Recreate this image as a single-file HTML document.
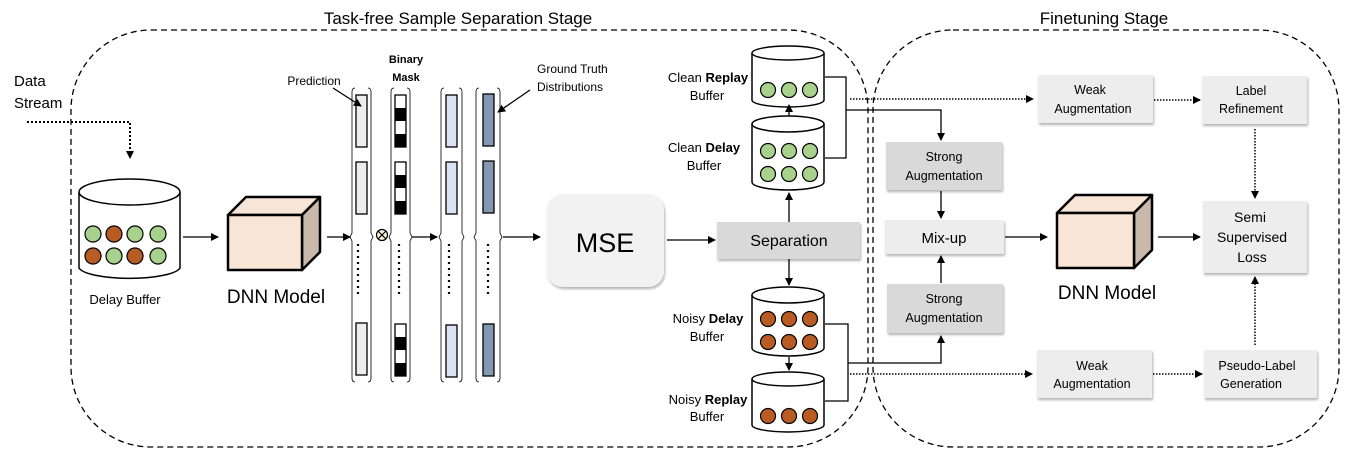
<!DOCTYPE html>
<html><head><meta charset="utf-8"><style>
html,body{margin:0;padding:0;background:#fff;}
svg{display:block;font-family:"Liberation Sans","DejaVu Sans",sans-serif;}
</style></head><body>
<svg width="1348" height="458" viewBox="0 0 1348 458" xmlns="http://www.w3.org/2000/svg">
<defs>
<marker id="a" markerWidth="8" markerHeight="8" refX="7" refY="4" orient="auto" markerUnits="userSpaceOnUse"><path d="M0,0 L8,4 L0,8 z" fill="#000"/></marker>
<filter id="sh" x="-10%" y="-10%" width="130%" height="130%"><feDropShadow dx="1" dy="2" stdDeviation="1.2" flood-color="#000" flood-opacity="0.3"/></filter>
</defs>
<!-- stage regions -->
<rect x="71" y="30" width="797" height="417" rx="80" fill="none" stroke="#000" stroke-width="1.3" stroke-dasharray="6,4"/>
<rect x="873" y="30" width="466" height="417" rx="80" fill="none" stroke="#000" stroke-width="1.3" stroke-dasharray="6,4"/>
<text x="458" y="24" font-size="17" text-anchor="middle">Task-free Sample Separation Stage</text>
<text x="1104" y="24" font-size="17" text-anchor="middle">Finetuning Stage</text>

<!-- data stream -->
<text x="14" y="86" font-size="15">Data</text>
<text x="14" y="108" font-size="15">Stream</text>
<path d="M27,122 H130 V158" fill="none" stroke="#000" stroke-width="2" stroke-dasharray="2,2" marker-end="url(#a)"/>

<!-- delay buffer -->
<path d="M79,192 V268 A51,12 0 0 0 180,268 V192" fill="#fff" stroke="#000" stroke-width="1.5"/>
<ellipse cx="129.5" cy="192" rx="50.5" ry="13" fill="#fff" stroke="#000" stroke-width="1.5"/>
<g stroke="#000" stroke-width="1.2">
<circle cx="93" cy="234" r="8" fill="#a9d18e"/><circle cx="114" cy="234" r="8" fill="#b85c24"/><circle cx="135" cy="234" r="8" fill="#a9d18e"/><circle cx="158" cy="234" r="8" fill="#a9d18e"/>
<circle cx="93" cy="256" r="8" fill="#b85c24"/><circle cx="114" cy="256" r="8" fill="#a9d18e"/><circle cx="135" cy="256" r="8" fill="#b85c24"/><circle cx="158" cy="256" r="8" fill="#a9d18e"/>
</g>
<text x="125" y="304" font-size="13" text-anchor="middle">Delay Buffer</text>
<line x1="183" y1="237" x2="218" y2="237" stroke="#000" stroke-width="1.3" marker-end="url(#a)"/>

<!-- DNN cube 1 -->
<g stroke="#000" stroke-width="2.5" stroke-linejoin="round">
<path d="M228,215 L246,197 L320,197 L302,215 z" fill="#f8e5d6"/>
<path d="M302,215 L320,197 L320,252 L302,270 z" fill="#c9b8ac"/>
<rect x="228" y="215" width="74" height="55" fill="#f8e5d6"/>
</g>
<text x="276" y="303" font-size="19" text-anchor="middle">DNN Model</text>
<line x1="327" y1="237" x2="350" y2="237" stroke="#000" stroke-width="1.3" marker-end="url(#a)"/>

<!-- columns -->
<g fill="none" stroke="#000" stroke-width="0.8">
<path d="M355,88 Q352,88 352,92 V233 L350,237 L352,241 V378 Q352,382 355,382"/>
<path d="M368,88 Q371,88 371,92 V233 L373,237 L371,241 V378 Q371,382 368,382"/>
<path d="M394,88 Q391,88 391,92 V233 L389,237 L391,241 V378 Q391,382 394,382"/>
<path d="M407,88 Q410,88 410,92 V233 L412,237 L410,241 V378 Q410,382 407,382"/>
<path d="M444,88 Q441,88 441,92 V233 L439,237 L441,241 V378 Q441,382 444,382"/>
<path d="M459,88 Q462,88 462,92 V233 L464,237 L462,241 V378 Q462,382 459,382"/>
<path d="M479,88 Q476,88 476,92 V233 L474,237 L476,241 V378 Q476,382 479,382"/>
<path d="M497,88 Q500,88 500,92 V233 L502,237 L500,241 V378 Q500,382 497,382"/>
</g>
<g stroke="#000" stroke-width="1.3">
<rect x="356" y="95" width="11" height="52" fill="#ededed"/>
<rect x="356" y="162" width="11" height="52" fill="#ededed"/>
<rect x="356" y="323" width="11" height="52" fill="#ededed"/>
<rect x="446" y="95" width="11" height="52" fill="#dae3f3"/>
<rect x="446" y="162" width="11" height="52" fill="#dae3f3"/>
<rect x="446" y="325" width="11" height="52" fill="#dae3f3"/>
<rect x="483" y="94" width="11" height="52" fill="#8497b0"/>
<rect x="483" y="161" width="11" height="52" fill="#8497b0"/>
<rect x="483" y="324" width="11" height="52" fill="#8497b0"/>
</g>
<g>
<rect x="395" y="95" width="11" height="52" fill="#fff" stroke="#000" stroke-width="1.3"/>
<rect x="395" y="108" width="11" height="13" fill="#000"/><rect x="395" y="134" width="11" height="13" fill="#000"/>
<rect x="395" y="162" width="11" height="52" fill="#fff" stroke="#000" stroke-width="1.3"/>
<rect x="395" y="175" width="11" height="13" fill="#000"/><rect x="395" y="201" width="11" height="13" fill="#000"/>
<rect x="395" y="324" width="11" height="52" fill="#fff" stroke="#000" stroke-width="1.3"/>
<rect x="395" y="337" width="11" height="13" fill="#000"/><rect x="395" y="363" width="11" height="13" fill="#000"/>
</g>
<g stroke="#000" stroke-width="2.2" stroke-dasharray="2,4">
<line x1="358" y1="244" x2="358" y2="297"/><line x1="399" y1="244" x2="399" y2="297"/>
<line x1="449" y1="244" x2="449" y2="297"/><line x1="488" y1="244" x2="488" y2="297"/>
</g>
<circle cx="382" cy="235" r="5.5" fill="#fff8dc" stroke="#000" stroke-width="1.2"/>
<path d="M378,231 L386,239 M386,231 L378,239" stroke="#000" stroke-width="1.2"/>
<line x1="412" y1="237" x2="437" y2="237" stroke="#000" stroke-width="1.3" marker-end="url(#a)"/>
<line x1="503" y1="237" x2="540" y2="237" stroke="#000" stroke-width="1.3" marker-end="url(#a)"/>

<text x="314" y="85" font-size="12" text-anchor="middle">Prediction</text>
<line x1="333" y1="88" x2="361" y2="106" stroke="#000" stroke-width="1.3" marker-end="url(#a)"/>
<text x="406" y="63" font-size="11" font-weight="bold" text-anchor="middle">Binary</text>
<text x="406" y="81" font-size="11" font-weight="bold" text-anchor="middle">Mask</text>
<text x="537" y="73" font-size="12">Ground Truth</text>
<text x="537" y="91" font-size="12">Distributions</text>
<line x1="530" y1="90" x2="498" y2="112" stroke="#000" stroke-width="1.3" marker-end="url(#a)"/>

<!-- MSE -->
<rect x="547" y="194" width="117" height="93" rx="16" fill="#f2f2f2" filter="url(#sh)"/>
<text x="605" y="252" font-size="27" text-anchor="middle">MSE</text>
<line x1="667" y1="240" x2="715" y2="240" stroke="#000" stroke-width="1.3" marker-end="url(#a)"/>
<rect x="717" y="222" width="143" height="37" fill="#d9d9d9" filter="url(#sh)"/>
<text x="789" y="246" font-size="16" text-anchor="middle">Separation</text>

<!-- buffers -->
<g stroke="#000" stroke-width="1.5">
<path d="M752,53 V100 A36,7 0 0 0 824,100 V53" fill="#fff"/><ellipse cx="788" cy="53" rx="36" ry="7" fill="#fff"/>
<path d="M752,124 V182 A36,8 0 0 0 824,182 V124" fill="#fff"/><ellipse cx="788" cy="124" rx="36" ry="8" fill="#fff"/>
<path d="M752,295 V348 A36,8 0 0 0 824,348 V295" fill="#fff"/><ellipse cx="788" cy="295" rx="36" ry="8" fill="#fff"/>
<path d="M752,379 V425 A36,7 0 0 0 824,425 V379" fill="#fff"/><ellipse cx="788" cy="379" rx="36" ry="7" fill="#fff"/>
</g>
<g stroke="#000" stroke-width="1.2" fill="#a9d18e">
<circle cx="768" cy="90" r="7.5"/><circle cx="789" cy="90" r="7.5"/><circle cx="810" cy="90" r="7.5"/>
<circle cx="768" cy="151" r="7.5"/><circle cx="789" cy="151" r="7.5"/><circle cx="810" cy="151" r="7.5"/>
<circle cx="768" cy="174" r="7.5"/><circle cx="789" cy="174" r="7.5"/><circle cx="810" cy="174" r="7.5"/>
</g>
<g stroke="#000" stroke-width="1.2" fill="#b85c24">
<circle cx="768" cy="319" r="7.5"/><circle cx="789" cy="319" r="7.5"/><circle cx="810" cy="319" r="7.5"/>
<circle cx="768" cy="342" r="7.5"/><circle cx="789" cy="342" r="7.5"/><circle cx="810" cy="342" r="7.5"/>
<circle cx="768" cy="416" r="7.5"/><circle cx="789" cy="416" r="7.5"/><circle cx="810" cy="416" r="7.5"/>
</g>
<g font-size="13" text-anchor="middle">
<text x="708" y="82">Clean <tspan font-weight="bold">Replay</tspan></text><text x="707" y="100">Buffer</text>
<text x="704" y="152">Clean <tspan font-weight="bold">Delay</tspan></text><text x="704" y="170">Buffer</text>
<text x="708" y="323">Noisy <tspan font-weight="bold">Delay</tspan></text><text x="707" y="341">Buffer</text>
<text x="708" y="404">Noisy <tspan font-weight="bold">Replay</tspan></text><text x="707" y="421">Buffer</text>
</g>
<g stroke="#000" stroke-width="1.3" fill="none">
<line x1="789" y1="116" x2="789" y2="105" marker-end="url(#a)"/>
<line x1="789" y1="222" x2="789" y2="193" marker-end="url(#a)"/>
<line x1="789" y1="259" x2="789" y2="285" marker-end="url(#a)"/>
<line x1="789" y1="357" x2="789" y2="370" marker-end="url(#a)"/>
<path d="M825,77 H846 V158 H825"/>
<path d="M825,324 H848 V401 H825"/>
<path d="M846,110 H941 V140" marker-end="url(#a)"/>
<path d="M848,363 H941 V336" marker-end="url(#a)"/>
</g>
<g stroke="#000" stroke-width="1.5" stroke-dasharray="1.5,1.5" fill="none">
<line x1="850" y1="99" x2="1033" y2="99" marker-end="url(#a)"/>
<line x1="850" y1="374" x2="1032" y2="374" marker-end="url(#a)"/>
<line x1="1154" y1="100" x2="1200" y2="100" marker-end="url(#a)"/>
<line x1="1153" y1="374" x2="1202" y2="374" marker-end="url(#a)"/>
<line x1="1255" y1="129" x2="1255" y2="198" marker-end="url(#a)"/>
<line x1="1255" y1="345" x2="1255" y2="277" marker-end="url(#a)"/>
</g>

<!-- finetuning boxes -->
<g filter="url(#sh)">
<rect x="886" y="142" width="116" height="48" fill="#d9d9d9"/>
<rect x="885" y="220" width="119" height="34" fill="#ededed"/>
<rect x="887" y="284" width="116" height="49" fill="#d9d9d9"/>
<rect x="1038" y="75" width="115" height="48" fill="#ededed"/>
<rect x="1202" y="76" width="105" height="48" fill="#ededed"/>
<rect x="1203" y="201" width="104" height="72" fill="#ededed"/>
<rect x="1037" y="350" width="115" height="48" fill="#ededed"/>
<rect x="1204" y="350" width="113" height="48" fill="#ededed"/>
</g>
<g font-size="12.5" text-anchor="middle">
<text x="944" y="161">Strong</text><text x="944" y="180">Augmentation</text>
<text x="944" y="303">Strong</text><text x="944" y="322">Augmentation</text>
<text x="1090" y="94">Weak</text><text x="1093" y="113">Augmentation</text>
<text x="1251" y="95">Label</text><text x="1251" y="113">Refinement</text>
<text x="1092" y="370">Weak</text><text x="1092" y="388">Augmentation</text>
<text x="1257" y="370">Pseudo-Label</text><text x="1251" y="388">Generation</text>
</g>
<g font-size="14" text-anchor="middle">
<text x="1250" y="222">Semi</text><text x="1252" y="242">Supervised</text><text x="1252" y="262">Loss</text>
</g>
<text x="944" y="243" font-size="15" text-anchor="middle">Mix-up</text>
<g stroke="#000" stroke-width="1.3">
<line x1="941" y1="191" x2="941" y2="218" marker-end="url(#a)"/>
<line x1="941" y1="283" x2="941" y2="256" marker-end="url(#a)"/>
<line x1="1005" y1="237" x2="1047" y2="237" marker-end="url(#a)"/>
<line x1="1158" y1="237" x2="1200" y2="237" marker-end="url(#a)"/>
</g>
<!-- DNN cube 2 -->
<g stroke="#000" stroke-width="2.5" stroke-linejoin="round">
<path d="M1057,213 L1075,195 L1152,195 L1134,213 z" fill="#f8e5d6"/>
<path d="M1134,213 L1152,195 L1152,250 L1134,268 z" fill="#c9b8ac"/>
<rect x="1057" y="213" width="77" height="55" fill="#f8e5d6"/>
</g>
<text x="1107" y="299" font-size="19" text-anchor="middle">DNN Model</text>
</svg>
</body></html>
